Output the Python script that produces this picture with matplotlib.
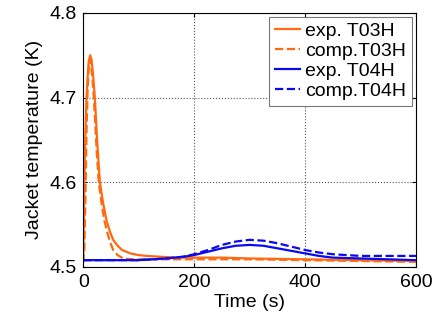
import numpy as np
import matplotlib.pyplot as plt

plt.rcParams['font.family'] = ['Liberation Sans', 'DejaVu Sans']

# exp. / comp. jacket temperatures, T03H (orange) and T04H (blue)
t_exp03 = [0, 1, 2, 4, 6, 8, 10, 12.5, 15, 18, 21, 25, 30, 36, 42, 48, 54, 62,
           70, 85, 100, 115, 140, 170, 200, 250, 300, 400, 500, 600]
exp_T03H = [4.51, 4.55, 4.60, 4.66, 4.70, 4.725, 4.743, 4.75, 4.745, 4.725,
            4.70, 4.65, 4.60, 4.575, 4.555, 4.542, 4.532, 4.525, 4.520, 4.516,
            4.514, 4.513, 4.512, 4.511, 4.511, 4.511, 4.510, 4.509, 4.508, 4.507]

t_comp03 = [0, 2, 4, 6, 8, 10, 12, 14, 17, 20, 24, 28, 33, 38, 43, 47, 54, 62,
            72, 90, 120, 200, 300, 400, 500, 600]
comp_T03H = [4.505, 4.52, 4.58, 4.66, 4.71, 4.735, 4.745, 4.74, 4.72, 4.69,
             4.64, 4.60, 4.575, 4.555, 4.542, 4.532, 4.520, 4.514, 4.510,
             4.509, 4.509, 4.509, 4.509, 4.508, 4.507, 4.506]

t_exp04 = [0, 50, 100, 150, 180, 200, 225, 250, 275, 300, 325, 350, 375, 400,
           425, 450, 500, 550, 600]
exp_T04H = [4.508, 4.508, 4.508, 4.510, 4.512, 4.514, 4.518, 4.522, 4.525,
             4.526, 4.525, 4.522, 4.519, 4.516, 4.513, 4.511, 4.510, 4.509, 4.508]

t_comp04 = [0, 50, 100, 150, 180, 200, 225, 250, 275, 300, 325, 350, 375, 400,
            425, 450, 500, 550, 600]
comp_T04H = [4.508, 4.508, 4.508, 4.510, 4.512, 4.515, 4.520, 4.526, 4.530,
              4.532, 4.531, 4.528, 4.524, 4.520, 4.517, 4.515, 4.513, 4.513, 4.513]

orange = '#ff6a10'
blue = '#0a0af0'
fs = 14

fig = plt.figure(figsize=(4.38, 3.22), dpi=100)
ax = fig.add_axes([0.19, 0.171, 0.76, 0.789])

ax.plot(t_exp03, exp_T03H, '-', color=orange, lw=1.6, label='exp. T03H')
ax.plot(t_comp03, comp_T03H, '--', color=orange, lw=1.6, label='comp.T03H')
ax.plot(t_exp04, exp_T04H, '-', color=blue, lw=1.6, label='exp. T04H')
ax.plot(t_comp04, comp_T04H, '--', color=blue, lw=1.6, label='comp.T04H')

ax.set_xlim(0, 600)
ax.set_ylim(4.5, 4.8)
ax.set_xticks([0, 200, 400, 600])
ax.set_yticks([4.5, 4.6, 4.7, 4.8])
ax.set_yticklabels(['4.5', '4.6', '4.7', '4.8'])
ax.tick_params(direction='in', top=True, right=True, labelsize=fs, length=3,
               pad=5)
ax.grid(True, linestyle=':', color='#555555', lw=0.8)
ax.set_xlabel('Time (s)', fontsize=fs, labelpad=2)
ax.set_ylabel('Jacket temperature (K)', fontsize=fs, labelpad=4)

leg = ax.legend(loc='upper right', fontsize=fs, handlelength=1.25,
                handletextpad=0.3, labelspacing=0.12, borderaxespad=0.2,
                borderpad=0.3, fancybox=False, framealpha=1)
leg.get_frame().set_edgecolor('#777777')
leg.get_frame().set_linewidth(0.8)

fig.savefig('out.png', dpi=100)
